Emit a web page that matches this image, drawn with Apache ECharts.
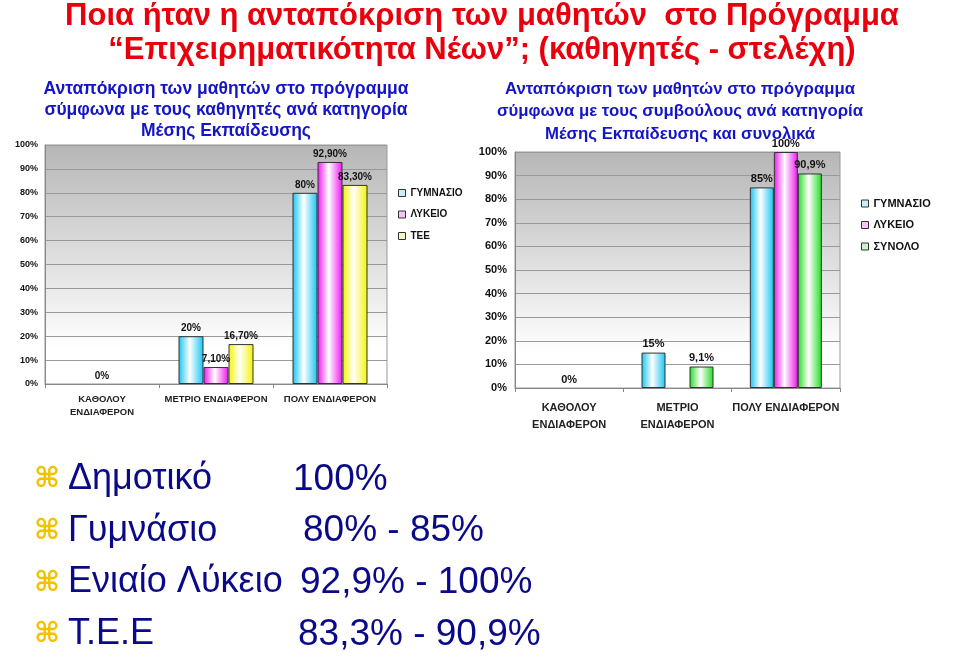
<!DOCTYPE html>
<html>
<head>
<meta charset="utf-8">
<title>Επιχειρηματικότητα Νέων</title>
<script src="https://cdn.jsdelivr.net/npm/echarts@6/dist/echarts.min.js"></script>
<style>
    html, body {margin: 0; padding: 0; background: #fff;}
    #main {width: 960px; height: 669px;}
</style>
</head>
<body>
<div id="main"></div>
<script>

/*data*/
const categoriesTeachers = ['ΚΑΘΟΛΟΥ\nΕΝΔΙΑΦΕΡΟΝ', 'ΜΕΤΡΙΟ ΕΝΔΙΑΦΕΡΟΝ', 'ΠΟΛΥ ΕΝΔΙΑΦΕΡΟΝ'];
const categoriesAdvisors = ['ΚΑΘΟΛΟΥ\nΕΝΔΙΑΦΕΡΟΝ', 'ΜΕΤΡΙΟ\nΕΝΔΙΑΦΕΡΟΝ', 'ΠΟΛΥ ΕΝΔΙΑΦΕΡΟΝ'];

const teachersGymnasio = [null, 20, 80];
const teachersLykeio = [0, 7.1, 92.9];
const teachersTee = [null, 16.7, 83.3];

const advisorsGymnasio = [null, 15, 85];
const advisorsLykeio = [0, null, 100];
const advisorsSynolo = [null, 9.1, 90.9];

const bulletLabels = ['Δημοτικό', 'Γυμνάσιο', 'Ενιαίο Λύκειο', 'Τ.Ε.Ε'];
const bulletValues = ['100%', '80% - 85%', '92,9% - 100%', '83,3% - 90,9%'];

const mainTitle = 'Ποια ήταν η ανταπόκριση των μαθητών  στο Πρόγραμμα\n“Επιχειρηματικότητα Νέων”; (καθηγητές - στελέχη)';
const leftTitle = 'Ανταπόκριση των μαθητών στο πρόγραμμα\nσύμφωνα με τους καθηγητές ανά κατηγορία\nΜέσης Εκπαίδευσης';
const rightTitle = 'Ανταπόκριση των μαθητών στο πρόγραμμα\nσύμφωνα με τους συμβούλους ανά κατηγορία\nΜέσης Εκπαίδευσης και συνολικά';

const FONT = '"Liberation Sans", Arial, sans-serif';

let myChart = echarts.init(document.getElementById('main'));

/*greek number format, 92.9 -> 92,90%*/
function pct(v, digits) {
    if (v == null) return '';
    if (Number.isInteger(v)) return v + '%';
    return v.toFixed(digits).replace('.', ',') + '%';
}

/*bar fill: colour at the edges, white in the middle*/
function barFill(color) {
    return new echarts.graphic.LinearGradient(0, 0, 1, 0, [
        {offset: 0, color: color},
        {offset: 0.45, color: '#ffffff'},
        {offset: 1, color: color}
    ]);
}

function plotBg() {
    return new echarts.graphic.LinearGradient(0, 0, 0, 1, [
        {offset: 0, color: '#b6b6b6'},
        {offset: 0.85, color: '#ffffff'},
        {offset: 1, color: '#ffffff'}
    ]);
}

function barSeries(name, data, color, axis, width, digits, labelSize) {
    return {
        name: name,
        type: 'bar',
        xAxisIndex: axis,
        yAxisIndex: axis,
        barWidth: width,
        barGap: '0%',
        // a zero bar has no height, so no outline either
        data: data.map(v => v === 0 ? {value: 0, itemStyle: {borderWidth: 0}} : v),
        itemStyle: {
            color: barFill(color),
            borderColor: '#333',
            borderWidth: 1
        },
        label: {
            show: true,
            position: 'top',
            distance: 3,
            fontFamily: FONT,
            fontWeight: 'bold',
            fontSize: labelSize,
            color: '#111',
            formatter: (p) => pct(p.value, digits)
        }
    };
}

function valueAxis(index, size, margin) {
    return {
        type: 'value',
        gridIndex: index,
        min: 0,
        max: 100,
        interval: 10,
        axisLine: {show: true, lineStyle: {color: '#888'}},
        axisTick: {show: false},
        axisLabel: {
            formatter: '{value}%',
            fontFamily: FONT,
            fontWeight: 'bold',
            fontSize: size,
            color: '#111',
            margin: margin
        },
        splitLine: {lineStyle: {color: '#999'}}
    };
}

function categoryAxis(index, cats, size, lineHeight, margin) {
    return {
        type: 'category',
        gridIndex: index,
        data: cats,
        axisLine: {lineStyle: {color: '#888'}},
        axisTick: {show: true, length: 4, lineStyle: {color: '#888'}},
        axisLabel: {
            interval: 0,
            fontFamily: FONT,
            fontWeight: 'bold',
            fontSize: size,
            lineHeight: lineHeight,
            color: '#222',
            margin: margin
        }
    };
}

function legendData(names, pale) {
    return names.map((n, i) => ({
        name: n,
        itemStyle: {color: pale[i], borderColor: '#333', borderWidth: 1}
    }));
}

function bullets() {
    let els = [];
    bulletLabels.forEach((label, i) => {
        let y = 479 + i * 51.7;
        els.push({
            type: 'text', left: 34, top: y - 13,
            style: {text: '⌘', fill: '#f2c200', font: 'bold 28px "DejaVu Sans"'}
        });
        els.push({
            type: 'text', left: 68, top: y - 18,
            style: {text: label, fill: '#0a0a88', font: '36px ' + FONT}
        });
        els.push({
            type: 'text', left: [293, 303, 300, 298][i], top: y - 18,
            style: {text: bulletValues[i], fill: '#0a0a88', font: '37px ' + FONT}
        });
    });
    return els;
}

function setOption() {
    let option = {
        animation: false,
        backgroundColor: '#fff',
        title: [
            {
                text: mainTitle,
                left: 477, top: -6, textAlign: 'center',
                textStyle: {fontFamily: FONT, fontWeight: 'bold', fontSize: 31, lineHeight: 34, color: '#e8000c'}
            },
            {
                text: leftTitle,
                left: 221, top: 74, textAlign: 'center',
                textStyle: {fontFamily: FONT, fontWeight: 'bold', fontSize: 17.5, lineHeight: 21, color: '#1414c8'}
            },
            {
                text: rightTitle,
                left: 675, top: 73, textAlign: 'center',
                textStyle: {fontFamily: FONT, fontWeight: 'bold', fontSize: 16.8, lineHeight: 22.5, color: '#1414c8'}
            }
        ],
        legend: [
            {
                data: legendData(['ΓΥΜΝΑΣΙΟ', 'ΛΥΚΕΙΟ', 'ΤΕΕ'], ['#c8eefa', '#f6c4f6', '#f6f6c0']),
                orient: 'vertical',
                left: 398, top: 188, padding: 0,
                icon: 'rect', itemWidth: 7, itemHeight: 7, itemGap: 11.5,
                selectedMode: false,
                textStyle: {
                    fontFamily: FONT, fontWeight: 'bold', fontSize: 10, color: '#111',
                    width: 54, overflow: 'truncate', ellipsis: ''
                }
            },
            {
                data: legendData(['ΓΥΜΝΑΣΙΟ', 'ΛΥΚΕΙΟ', 'ΣΥΝΟΛΟ'], ['#c8eefa', '#f6c4f6', '#c8f6c8']),
                orient: 'vertical',
                left: 861, top: 198, padding: 0,
                icon: 'rect', itemWidth: 7, itemHeight: 7, itemGap: 10.5,
                selectedMode: false,
                textStyle: {fontFamily: FONT, fontWeight: 'bold', fontSize: 11, color: '#111'}
            }
        ],
        grid: [
            {left: 45, top: 145, width: 342, height: 239, show: true, backgroundColor: plotBg(), borderColor: '#999'},
            {left: 515, top: 152, width: 325, height: 236, show: true, backgroundColor: plotBg(), borderColor: '#999'}
        ],
        xAxis: [
            categoryAxis(0, categoriesTeachers, 9.5, 13, 9),
            categoryAxis(1, categoriesAdvisors, 11, 17, 11)
        ],
        yAxis: [
            valueAxis(0, 9, 7),
            valueAxis(1, 11, 8)
        ],
        series: [
            barSeries('ΓΥΜΝΑΣΙΟ', teachersGymnasio, '#14c4f4', 0, 25, 2, 10),
            barSeries('ΛΥΚΕΙΟ', teachersLykeio, '#f014f0', 0, 25, 2, 10),
            barSeries('ΤΕΕ', teachersTee, '#f4f400', 0, 25, 2, 10),
            barSeries('ΓΥΜΝΑΣΙΟ', advisorsGymnasio, '#14c4f4', 1, 24, 1, 11),
            barSeries('ΛΥΚΕΙΟ', advisorsLykeio, '#f014f0', 1, 24, 1, 11),
            barSeries('ΣΥΝΟΛΟ', advisorsSynolo, '#20dc20', 1, 24, 1, 11)
        ],
        graphic: bullets()
    };

    myChart.setOption(option);
}

setOption();

</script>
</body>
</html>
